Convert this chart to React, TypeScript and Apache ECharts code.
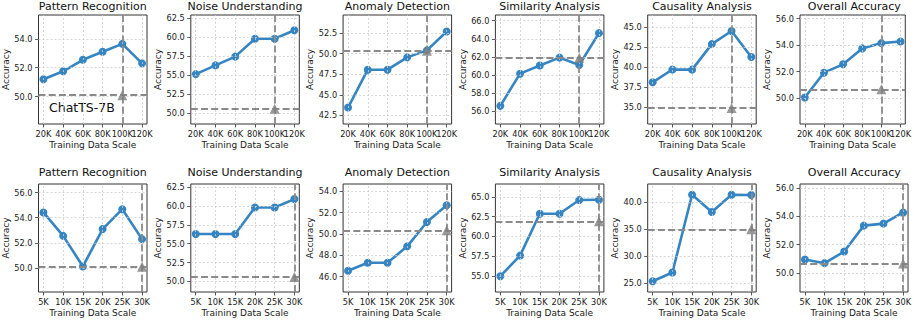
import React, { useEffect, useRef } from 'react';
import * as echarts from 'echarts';

const taskNames = [
  'Pattern Recognition',
  'Noise Understanding',
  'Anomaly Detection',
  'Similarity Analysis',
  'Causality Analysis',
  'Overall Accuracy',
];

const topScales = [20, 40, 60, 80, 100, 120];
const bottomScales = [5, 10, 15, 20, 25, 30];

const topAccuracy = [
  [51.2, 51.75, 52.55, 53.1, 53.65, 52.3],
  [55.15, 56.3, 57.45, 59.8, 59.8, 60.92],
  [43.45, 48.05, 48.05, 49.55, 50.4, 52.7],
  [56.6, 60.15, 61.05, 61.92, 61.1, 64.62],
  [38.1, 39.7, 39.68, 42.87, 44.5, 41.25],
  [50.05, 51.92, 52.55, 53.75, 54.15, 54.27],
];

const bottomAccuracy = [
  [54.42, 52.56, 50.13, 53.1, 54.68, 52.3],
  [56.3, 56.3, 56.3, 59.8, 59.8, 60.92],
  [46.55, 47.3, 47.3, 48.84, 51.13, 52.7],
  [54.95, 57.55, 62.85, 62.85, 64.6, 64.62],
  [25.3, 26.9, 41.3, 38.1, 41.3, 41.25],
  [50.96, 50.7, 51.52, 53.34, 53.48, 54.27],
];

const baselines = [50.1, 50.6, 50.35, 61.9, 34.9, 50.67];
const baselineName = 'ChatTS-7B';
const topMarkScale = 100;
const bottomMarkScale = 30;

const topYTicks = [
  [50, 52, 54],
  [50, 52.5, 55, 57.5, 60, 62.5],
  [42.5, 45, 47.5, 50, 52.5],
  [56, 58, 60, 62, 64, 66],
  [35, 37.5, 40, 42.5, 45],
  [50, 52, 54, 56],
];
const bottomYTicks = [
  [50, 52, 54, 56],
  [50, 52.5, 55, 57.5, 60, 62.5],
  [46, 48, 50, 52, 54],
  [55, 57.5, 60, 62.5, 65],
  [25, 30, 35, 40],
  [50, 52, 54, 56],
];

const FONT = '"DejaVu Sans", sans-serif';
const BLUE = '#3585c2';
const GRAY = '#8a8a8a';
const TICK_FONT = 8.2;

export default function App() {
  const ref = useRef<HTMLDivElement>(null);

  useEffect(() => {
    if (!ref.current) return;
    const chart = echarts.init(ref.current, undefined, { renderer: 'svg' });

    const grids: any[] = [];
    const xAxes: any[] = [];
    const xAxesExtra: any[] = [];
    const yAxes: any[] = [];
    const series: any[] = [];
    const titles: any[] = [];

    const rows = [
      { scales: topScales, values: topAccuracy, ticks: topYTicks, mark: topMarkScale, top: 15, height: 109, titleTop: 1 },
      { scales: bottomScales, values: bottomAccuracy, ticks: bottomYTicks, mark: bottomMarkScale, top: 184, height: 108, titleTop: 167 },
    ];

    const labelStyle = { fontFamily: FONT, fontSize: TICK_FONT, color: '#1a1a1a', margin: 6 };

    rows.forEach((row, r) => {
      const span = row.scales[row.scales.length - 1] - row.scales[0];
      const xMin = row.scales[0] - span * 0.05;
      const xMax = row.scales[row.scales.length - 1] + span * 0.05;
      taskNames.forEach((name, c) => {
        const idx = r * 6 + c;
        const left = 38.5 + 152.3 * c;
        const width = 108.5;
        const vals = row.values[c];
        const base = baselines[c];
        const lo = Math.min(...vals, base) - 2;
        const hi = Math.max(...vals, base) + 2;
        grids.push({
          left, top: row.top, width, height: row.height,
          show: true, borderColor: '#333', borderWidth: 1, backgroundColor: 'transparent',
          containLabel: false,
        });
        titles.push({
          text: name, left: left + width / 2, top: row.titleTop, textAlign: 'center', padding: 0,
          textStyle: { fontFamily: FONT, fontSize: 11, fontWeight: 'normal', color: '#111' },
        });
        xAxes.push({
          gridIndex: idx, type: 'value', min: xMin, max: xMax,
          axisLine: { show: false },
          axisTick: { show: true, length: 3.5, lineStyle: { color: '#333', width: 0.8 }, customValues: row.scales },
          axisLabel: {
            customValues: row.scales.slice(0, -1), formatter: (v: number) => `${v}K`,
            showMinLabel: true, showMaxLabel: true, hideOverlap: false,
            ...labelStyle,
          },
          splitLine: { show: false },
          name: 'Training Data Scale', nameLocation: 'middle', nameGap: 16,
          nameTextStyle: { fontFamily: FONT, fontSize: 9, color: '#1a1a1a' },
        });
        // second bottom axis that only carries the last tick label, so that it may overlap its neighbour
        xAxesExtra.push({
          gridIndex: idx, type: 'value', min: xMin, max: xMax, position: 'bottom', offset: 0,
          axisLine: { show: false }, axisTick: { show: false }, splitLine: { show: false },
          axisLabel: {
            customValues: row.scales.slice(-1), formatter: (v: number) => `${v}K`,
            showMinLabel: true, showMaxLabel: true,
            ...labelStyle,
          },
        });
        yAxes.push({
          gridIndex: idx, type: 'value', min: lo, max: hi,
          axisLine: { show: false },
          axisTick: { show: true, length: 3.5, lineStyle: { color: '#333', width: 0.8 }, customValues: row.ticks[c] },
          axisLabel: {
            customValues: row.ticks[c], formatter: (v: number) => v.toFixed(1),
            showMinLabel: true, showMaxLabel: true,
            ...labelStyle,
          },
          splitLine: { show: false },
          name: 'Accuracy', nameLocation: 'middle', nameGap: 26,
          nameTextStyle: { fontFamily: FONT, fontSize: 9, color: '#1a1a1a' },
        });
        // grid lines at the tick positions
        series.push({
          type: 'line', xAxisIndex: idx, yAxisIndex: idx, z: 1, data: [],
          markLine: {
            silent: true, symbol: ['none', 'none'], label: { show: false },
            lineStyle: { color: '#cdcdcd', width: 0.8, type: [2, 2] },
            data: [
              ...row.scales.map((s) => ({ xAxis: s })),
              ...row.ticks[c].map((t) => ({ yAxis: t })),
            ],
          },
        });
        series.push({
          type: 'line', xAxisIndex: idx, yAxisIndex: idx, z: 2,
          data: row.scales.map((s, k) => [s, vals[k]]),
          symbol: 'circle', symbolSize: 8, showSymbol: true,
          lineStyle: { color: BLUE, width: 2.6 },
          itemStyle: { color: BLUE, borderWidth: 0 },
          markLine: {
            silent: true, symbol: ['none', 'none'], label: { show: false },
            lineStyle: { color: GRAY, width: 1.8, type: [7, 3.2] },
            data: [{ yAxis: base }, { xAxis: row.mark }],
          },
        });
        series.push({
          type: 'scatter', xAxisIndex: idx, yAxisIndex: idx, z: 5,
          data: [[row.mark, base]], symbol: 'triangle', symbolSize: 10,
          itemStyle: { color: '#7f7f7f' },
        });
      });
    });

    chart.setOption({
      animation: false,
      backgroundColor: '#fff',
      title: titles,
      grid: grids,
      xAxis: [...xAxes, ...xAxesExtra],
      yAxis: yAxes,
      series,
      graphic: [
        {
          type: 'text', left: 82 - 33, top: 101,
          style: { text: baselineName, fontFamily: FONT, fontSize: 12.5, fill: '#111' },
        },
      ],
    });
    return () => chart.dispose();
  }, []);

  return <div ref={ref} style={{ position: 'fixed', left: 0, top: 0, width: 914, height: 320 }} />;
}
